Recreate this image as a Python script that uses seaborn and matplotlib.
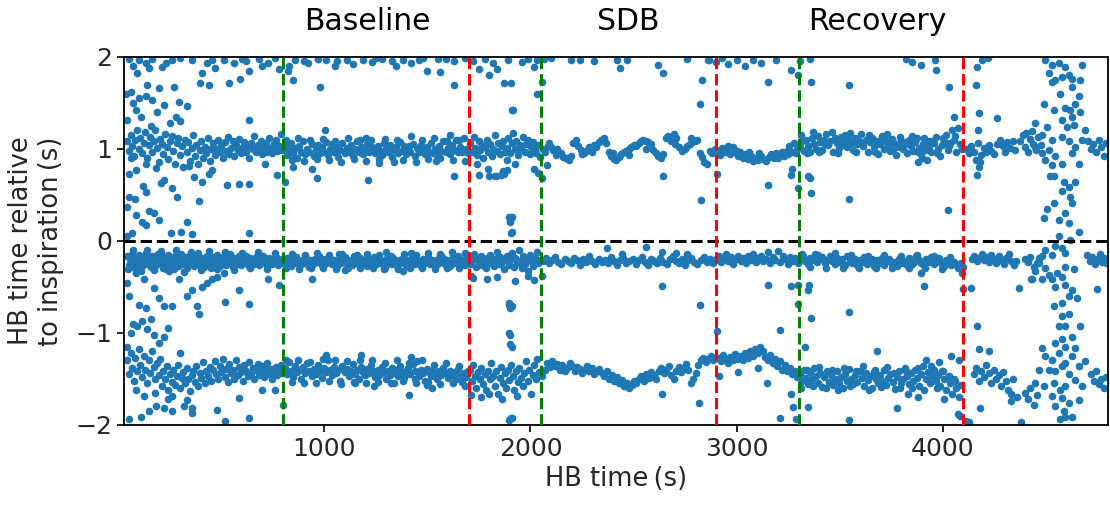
import matplotlib
matplotlib.use("Agg")
import matplotlib.pyplot as plt
import seaborn as sns
import pandas as pd

# ---------------- chart constants ----------------
phase_names = ["Baseline", "SDB", "Recovery"]
phase_starts = [800, 2050, 3300]      # green dashed lines (s)
phase_ends = [1700, 2900, 4100]       # red dashed lines (s)
phase_label_x = [1207, 2473, 3680]
x_ticks = [1000, 2000, 3000, 4000]
y_ticks = [-2, -1, 0, 1, 2]
x_label = "HB time\u2009(s)"
y_label = "HB time relative\nto inspiration\u2009(s)"

# ---------------- data: (HB time s, relative time s) ----------------
top_edge = [
    (53,1.98),(101,1.96),(134,1.93),(166,1.98),(93,1.82),(230,1.93),(214,1.89),(359,1.96),(407,1.82),(432,1.93),
    (456,1.96),(440,1.69),(399,1.71),(512,1.96),(536,1.71),(560,1.93),(593,1.76),(633,1.85),(601,1.98),(681,1.98),
    (729,1.93),(778,1.87),(826,1.85),(850,1.75),(858,1.96),(923,1.93),(971,1.98),(70,1.9),(150,1.88),(260,1.97),
    (300,1.99),(470,1.88),(620,1.95),(700,1.9),(760,1.99),
    (61,1.62),(142,1.69),(134,1.57),(166,1.53),(198,1.66),(222,1.48),(190,1.4),(85,1.42),(270,1.67),(279,1.35),
    (295,1.51),(335,1.46),(45,1.31),(633,1.31),
    (970,1.98),(1010,1.96),(1060,1.95),(1110,1.97),(1140,1.92),(1190,1.96),(1230,1.94),(1280,1.98),(1330,1.95),(1380,1.97),
    (1420,1.93),(1460,1.96),(1500,1.85),(1560,1.84),(1590,1.98),(1630,1.95),(1680,1.99),(1750,1.87),(1800,1.8),(1840,1.87),
    (1870,1.71),(979,1.67),(1631,1.69),(1913,1.42),
    (2018,1.89),(2066,1.98),(2098,1.99),(2195,1.96),(2240,1.97),(2308,1.95),(2420,1.97),(2435,1.88),(2470,1.96),(2620,1.91),
    (2645,1.82),(2760,1.98),(2830,1.75),(2823,1.49),(1905,1.71),(1908,1.42),(2058,1.73),(2034,1.6),(2865,1.96),
    (2860,1.97),(2900,1.94),(2930,1.99),(2960,1.92),(3000,1.96),(3040,1.9),(3080,1.97),(3120,1.93),(3153,1.73),(3193,1.97),
    (3265,1.86),(3298,1.8),(3354,1.98),(3362,1.73),(3547,1.69),(3305,1.95),
    (3820,1.98),(3850,1.94),(3894,1.91),(3960,1.97),(3966,1.86),(4030,1.67),(4167,1.89),(4160,1.69),(4175,1.39),(4055,1.35),
    (4264,1.33),(4190,1.96),(4220,1.99),
    (1720,1.95),(1780,1.98),(1820,1.93),(1890,1.97),(1960,1.94),(1990,1.98),(2030,1.96),(1550,1.98),(1480,1.99),(1350,1.9),
    (1250,1.99),(1050,1.9),(900,1.95),(830,1.9),
]

upper_band = [
    (45,1.08),(52,.98),(60,1.15),(68,1.03),(76,.92),(84,1.1),(92,1.2),(100,1.0),(108,1.12),(116,.95),
    (124,1.06),(132,1.18),(140,.9),(148,1.04),(156,1.13),(164,.97),(172,1.09),(180,1.2),(188,1.01),(196,.86),
    (204,1.11),(212,1.05),(220,.94),(228,1.16),(236,1.02),(244,.89),(252,1.08),(260,1.14),(268,.98),(276,.83),
    (284,1.06),(292,1.12),(300,.93),(308,1.03),(316,.8),(324,1.1),(332,.96),(340,1.07),(348,.87),(356,1.01),
    (364,1.15),(372,.92),(380,1.04),(388,.84),(396,.99),(404,1.09),(412,.9),(420,1.02),(428,.95),(436,1.12),
    (444,.87),(452,1.0),(460,1.06),(468,.93),(476,1.0),(484,1.1),(492,.96),(500,1.03),(508,.9),(516,1.07),
    (524,.98),(532,1.13),(540,.94),(548,1.01),(556,1.08),(564,.92),(572,1.04),(580,.99),(588,1.11),(596,.95),
    (604,1.02),(612,1.07),(620,.97),(628,1.03),(636,.9),(644,1.06),(652,1.0),(660,1.14),(668,.96),(676,1.04),
    (684,.99),(692,1.09),(700,.94),(708,1.02),(716,1.06),(724,.97),(732,1.12),(740,1.01),(748,.95),(756,1.05),
    (764,1.1),(772,.98),(780,1.03),(788,1.16),(796,.99),
    (808,1.04),(818,.93),(828,.99),(838,1.06),(848,.95),(858,1.01),(868,.9),(878,1.03),(888,.97),(898,1.08),
    (908,.94),(918,1.0),(928,.96),(938,1.05),(948,.92),(958,.99),(968,1.04),(978,.95),(988,1.02),(998,.97),
    (1008,1.07),(1018,.93),(1028,1.0),(1038,1.05),(1048,.96),(1058,1.02),(1068,.91),(1078,.99),(1088,1.06),(1098,.95),
    (1108,1.01),(1118,.97),(1128,1.04),(1138,.92),(1148,1.0),(1158,1.08),(1168,.96),(1178,1.02),(1188,.94),(1198,.99),
    (1208,1.05),(1218,.97),(1228,1.1),(1238,1.01),(1248,.95),(1258,1.03),(1268,.98),(1278,.93),(1288,1.06),(1298,1.0),
    (1308,.96),(1318,1.04),(1328,.91),(1338,.99),(1348,1.02),(1358,.95),(1368,1.07),(1378,.98),(1388,1.03),(1398,.94),
    (1408,1.0),(1418,.97),(1428,1.05),(1438,.92),(1448,1.01),(1458,.96),(1468,1.04),(1478,.99),(1488,.94),(1498,1.02),
    (1508,.97),(1518,1.06),(1528,.95),(1538,1.0),(1548,.93),(1558,1.03),(1568,.98),(1578,1.08),(1588,.96),(1598,1.01),
    (1608,.94),(1618,1.04),(1628,.99),(1638,1.1),(1648,.96),(1658,1.02),(1668,.97),(1678,1.12),(1688,1.0),(1698,.95),
    (1001,1.2),(1200,1.12),(1420,1.14),(1610,1.15),(1265,.85),(1340,.86),(1540,.87),
    (1708,1.06),(1716,.97),(1724,1.13),(1732,1.01),(1740,.93),(1748,1.08),(1756,.99),(1764,1.04),(1772,.9),(1780,1.02),
    (1788,1.1),(1796,.96),(1804,1.05),(1812,.92),(1820,1.0),(1828,1.15),(1836,.98),(1844,1.06),(1852,.94),(1860,1.03),
    (1868,1.09),(1876,.97),(1884,1.01),(1892,1.12),(1900,.95),(1908,1.06),(1916,1.17),(1924,1.0),(1932,1.09),(1940,.93),
    (1948,1.04),(1956,1.0),(1964,1.13),(1972,.97),(1980,1.05),(1988,1.1),(1996,.94),(2004,1.02),(2012,1.07),(2020,.99),
    (2028,.95),(2036,1.04),(2044,.91),
    (1740,.84),(1795,.78),(1830,.7),(1870,.73),(1855,.71),(1885,.77),(1925,.84),(2018,.78),(2058,.68),(2035,.74),
    (2060,1.0),(2072,.97),(2085,1.03),(2098,1.02),(2110,.99),(2122,.93),(2135,.97),(2147,.95),(2160,.91),(2172,.9),
    (2185,.88),(2195,.92),(2208,1.06),(2220,1.1),(2232,1.03),(2245,.99),(2258,.95),(2270,.98),(2282,1.02),(2294,1.0),
    (2306,1.04),(2318,1.02),(2330,1.07),(2342,1.1),(2355,1.12),(2368,1.06),(2380,.97),(2392,.92),(2404,.89),(2416,.88),
    (2428,.91),(2440,.94),(2452,.96),(2464,.98),(2476,1.0),(2488,1.02),(2500,1.04),(2512,1.03),(2524,1.06),(2536,1.08),
    (2548,1.1),(2560,1.09),(2572,1.07),(2584,1.05),(2596,.99),(2608,.95),(2620,.92),(2632,.9),(2644,.94),(2656,1.12),
    (2668,1.14),(2680,1.08),(2694,1.16),(2708,1.12),(2722,1.02),(2736,.98),(2748,1.0),(2760,1.03),(2772,1.05),(2784,1.07),
    (2796,1.09),(2808,1.1),(2820,.95),(2832,.91),(2844,.86),(2856,.84),(2870,.98),(2882,.95),(2894,1.0),
    (2090,1.06),(2130,1.0),(2250,.94),(2300,.96),(2400,.95),(2480,.93),(2560,1.0),(2700,1.05),(2780,1.12),
    (2645,.7),(2825,.44),(2080,.82),
    (2905,.97),(2918,.93),(2930,1.01),(2942,.96),(2955,.99),(2968,.94),(2980,1.02),(2992,.97),(3005,.92),(3018,.96),
    (3030,.9),(3042,.94),(3055,.89),(3068,.92),(3080,.87),(3092,.9),(3105,.88),(3118,.92),(3130,.89),(3142,.87),
    (3155,.91),(3168,.94),(3180,.9),(3192,.95),(3205,.93),(3218,.96),(3230,.92),(3242,.98),(3255,1.03),(3268,.97),
    (3280,1.06),(3292,1.0),
    (2960,1.03),(3000,.98),(3060,.97),(3110,.95),(3200,.9),(3250,.94),(3290,.95),
    (2903,.73),(3153,.61),(3265,.72),(3298,.57),(3345,.7),(3355,.68),(3362,.52),(3547,.45),(3270,.78),
    (3305,1.02),(3315,1.08),(3325,.98),(3335,1.1),(3345,1.03),(3355,.96),(3365,1.12),(3375,1.05),(3385,1.0),(3395,1.14),
    (3405,1.07),(3415,.99),(3425,1.1),(3435,1.16),(3445,1.04),(3455,1.09),(3465,.97),(3475,1.12),(3485,1.06),(3495,1.01),
    (3505,1.13),(3515,1.08),(3525,1.15),(3535,1.02),(3545,1.1),(3555,1.06),(3565,.99),(3575,1.12),(3585,1.05),(3595,1.09),
    (3605,1.16),(3615,1.03),(3625,1.1),(3635,.96),(3645,1.07),(3655,1.12),(3665,1.02),(3675,1.08),(3685,.94),(3695,1.05),
    (3705,1.14),(3715,1.0),(3725,1.09),(3735,1.04),(3745,.98),(3755,1.11),(3765,1.06),(3775,.93),(3785,1.02),(3795,1.08),
    (3805,1.0),(3815,1.05),(3825,.95),(3835,1.1),(3845,1.03),(3855,.98),(3865,1.07),(3875,1.12),(3885,1.01),(3895,.94),
    (3905,1.05),(3915,.99),(3925,1.09),(3935,1.03),(3945,.96),(3955,1.06),(3965,1.13),(3975,1.0),(3985,.92),(3995,1.04),
    (4005,1.08),(4015,1.15),(4025,.99),(4035,1.06),(4045,1.2),(4055,1.1),(4065,.96),(4075,1.23),(4085,1.05),(4095,1.0),
    (3925,.88),(3900,.9),(3880,.86),(4025,.34),
    (4110,1.0),(4125,.95),(4138,1.03),(4150,.97),(4160,.88),(4172,1.06),(4185,.93),(4198,1.01),(4210,.96),(4222,1.04),
    (4235,.98),(4248,.94),(4262,1.05),(4275,1.1),(4290,1.03),(4300,.97),(4312,1.07),(4325,1.01),(4338,1.09),(4350,.99),
    (4375,1.08),(4388,1.15),(4400,1.02),(4412,.96),(4425,1.11),(4438,1.05),(4450,.99),(4462,1.13),(4475,1.04),
    (4706,1.08),(4718,1.0),(4730,1.05),(4742,.96),(4755,1.1),(4768,1.02),(4780,.92),(4790,1.06),
    (4175,.8),(4167,.71),(4180,.86),(4170,1.2),
]

upper_band_extra = [
    (813,1.1),(843,.88),(873,1.12),(903,.87),(933,1.1),(963,.89),(993,1.11),(1023,.88),(1053,1.09),(1083,.86),
    (1113,1.12),(1143,.89),(1173,1.1),(1203,.87),(1233,1.02),(1263,.89),(1293,1.11),(1323,1.0),(1353,1.1),(1383,.88),
    (1413,1.03),(1443,.86),(1473,1.1),(1503,.89),(1533,1.12),(1563,.9),(1593,1.09),(1623,.88),(1653,1.1),(1683,.87),
    (3310,1.15),(3340,.95),(3370,1.18),(3400,.96),(3430,1.05),(3460,1.18),(3490,.95),(3520,1.04),(3550,1.17),(3580,.97),
    (3610,1.06),(3640,1.15),(3670,.97),(3700,1.1),(3730,1.16),(3760,.99),(3790,1.13),(3820,1.07),(3850,1.14),(3880,.96),
    (3910,1.12),(3940,1.08),(3970,.95),(4000,1.12),(4030,1.03),(4060,1.14),
]

middle_band = [
    (45,-.17),(52,-.26),(59,-.2),(66,-.14),(73,-.23),(80,-.29),(87,-.19),(94,-.24),(101,-.15),(108,-.22),
    (115,-.27),(122,-.18),(129,-.21),(136,-.13),(143,-.25),(150,-.2),(157,-.28),(164,-.16),(171,-.23),(178,-.19),
    (185,-.26),(192,-.14),(199,-.21),(206,-.24),(213,-.17),(220,-.29),(227,-.2),(234,-.23),(241,-.15),(248,-.26),
    (255,-.19),(262,-.22),(269,-.31),(276,-.17),(283,-.24),(290,-.2),(297,-.27),(304,-.14),(311,-.22),(318,-.25),
    (325,-.18),(332,-.3),(339,-.21),(346,-.16),(353,-.24),(360,-.2),(367,-.27),(374,-.18),(381,-.23),(388,-.13),
    (395,-.26),(402,-.21),(409,-.19),(416,-.28),(423,-.22),(430,-.16),(437,-.24),(444,-.2),(451,-.3),(458,-.18),
    (465,-.25),(472,-.21),(479,-.15),(486,-.23),(493,-.27),(500,-.19),(507,-.22),(514,-.17),(521,-.26),(528,-.2),
    (535,-.24),(542,-.14),(549,-.22),(556,-.28),(563,-.19),(570,-.23),(577,-.25),(584,-.17),(591,-.21),(598,-.26),
    (605,-.2),(612,-.24),(619,-.16),(626,-.22),(633,-.27),(640,-.19),(647,-.23),(654,-.21),(661,-.25),(668,-.18),
    (675,-.22),(682,-.26),(689,-.2),(696,-.23),(703,-.17),(710,-.24),(717,-.21),(724,-.27),(731,-.19),(738,-.22),
    (745,-.25),(752,-.2),(759,-.23),(766,-.18),(773,-.26),(780,-.21),(787,-.24),(794,-.2),
    (802,-.21),(811,-.25),(820,-.19),(829,-.23),(838,-.27),(847,-.2),(856,-.24),(865,-.18),(874,-.22),(883,-.26),
    (892,-.21),(901,-.24),(910,-.19),(919,-.23),(928,-.28),(937,-.21),(946,-.25),(955,-.2),(964,-.23),(973,-.17),
    (982,-.22),(991,-.26),(1000,-.2),(1009,-.24),(1018,-.22),(1027,-.19),(1036,-.25),(1045,-.21),(1054,-.23),(1063,-.27),
    (1072,-.2),(1081,-.24),(1090,-.22),(1099,-.18),(1108,-.25),(1117,-.21),(1126,-.23),(1135,-.26),(1144,-.2),(1153,-.24),
    (1162,-.22),(1171,-.19),(1180,-.25),(1189,-.21),(1198,-.23),(1207,-.27),(1216,-.2),(1225,-.24),(1234,-.22),(1243,-.18),
    (1252,-.25),(1261,-.21),(1270,-.24),(1279,-.22),(1288,-.26),(1297,-.2),(1306,-.23),(1315,-.21),(1324,-.25),(1333,-.19),
    (1342,-.23),(1351,-.27),(1360,-.21),(1369,-.24),(1378,-.2),(1387,-.23),(1396,-.26),(1405,-.21),(1414,-.24),(1423,-.19),
    (1432,-.22),(1441,-.25),(1450,-.21),(1459,-.23),(1468,-.27),(1477,-.2),(1486,-.24),(1495,-.22),(1504,-.18),(1513,-.25),
    (1522,-.21),(1531,-.23),(1540,-.26),(1549,-.2),(1558,-.24),(1567,-.22),(1576,-.19),(1585,-.25),(1594,-.21),(1603,-.23),
    (1612,-.27),(1621,-.2),(1630,-.24),(1639,-.22),(1648,-.17),(1657,-.25),(1666,-.21),(1675,-.23),(1684,-.26),(1693,-.2),
    (1070,-.14),(1160,-.15),(1300,-.12),(1420,-.13),(1560,-.14),(1620,-.12),(1680,-.13),(1100,-.32),(1290,-.31),(1380,-.33),
    (1702,-.18),(1710,-.25),(1718,-.21),(1726,-.14),(1734,-.28),(1742,-.2),(1750,-.23),(1758,-.17),(1766,-.26),(1774,-.21),
    (1782,-.3),(1790,-.19),(1798,-.24),(1806,-.15),(1814,-.22),(1822,-.27),(1830,-.2),(1838,-.12),(1846,-.25),(1854,-.18),
    (1862,-.23),(1870,-.31),(1878,-.2),(1886,-.16),(1894,-.26),(1902,-.21),(1910,-.13),(1918,-.28),(1926,-.19),(1934,-.24),
    (1942,-.1),(1950,-.22),(1958,-.3),(1966,-.17),(1974,-.25),(1982,-.2),(1990,-.33),(1998,-.15),(2006,-.23),(2014,-.27),
    (2022,-.19),(2030,-.12),(2038,-.24),(2046,-.21),
    (1720,-.4),(1790,-.41),(1840,-.39),(1925,-.44),(2018,-.43),(2058,-.38),(1990,-.38),
    (2060,-.22),(2075,-.19),(2090,-.24),(2105,-.21),(2120,-.18),(2135,-.23),(2150,-.25),(2165,-.2),(2180,-.22),(2195,-.24),
    (2210,-.19),(2225,-.21),(2240,-.26),(2255,-.2),(2270,-.23),(2285,-.17),(2300,-.22),(2315,-.25),(2330,-.2),(2345,-.23),
    (2360,-.21),(2375,-.24),(2390,-.18),(2405,-.22),(2420,-.26),(2435,-.21),(2450,-.19),(2465,-.24),(2480,-.22),(2495,-.2),
    (2510,-.25),(2525,-.21),(2540,-.18),(2555,-.23),(2570,-.26),(2585,-.2),(2600,-.22),(2615,-.24),(2630,-.19),(2645,-.23),
    (2660,-.25),(2675,-.2),(2690,-.17),(2705,-.22),(2720,-.24),(2735,-.2),(2750,-.26),(2765,-.21),(2780,-.19),(2795,-.23),
    (2810,-.25),(2825,-.21),(2840,-.18),(2855,-.23),(2870,-.2),(2885,-.24),
    (2370,-.08),(2560,-.07),(2705,-.13),(2760,-.14),(2445,-.14),(2640,-.12),(2639,-.49),(2823,-.7),
    (2900,-.2),(2912,-.17),(2924,-.23),(2936,-.19),(2948,-.14),(2960,-.22),(2972,-.18),(2984,-.25),(2996,-.2),(3008,-.16),
    (3020,-.22),(3032,-.19),(3044,-.24),(3056,-.17),(3068,-.21),(3080,-.14),(3092,-.23),(3104,-.19),(3116,-.16),(3128,-.22),
    (3140,-.2),(3152,-.12),(3164,-.24),(3176,-.18),(3188,-.21),(3200,-.11),(3212,-.23),(3224,-.17),(3236,-.2),(3248,-.25),
    (3260,-.18),(3272,-.22),(3284,-.19),(3296,-.24),(3308,-.2),(3320,-.17),(3332,-.22),(3344,-.25),(3356,-.19),(3368,-.21),
    (3380,-.14),(3392,-.23),(3404,-.2),(3416,-.18),(3428,-.24),(3440,-.21),(3452,-.16),(3464,-.22),(3476,-.25),(3488,-.19),
    (3500,-.23),(3512,-.2),(3524,-.26),(3536,-.17),(3548,-.22),(3560,-.24),(3572,-.2),(3584,-.26),(3596,-.21),(3608,-.23),
    (3620,-.18),(3632,-.25),(3644,-.22),(3656,-.2),(3668,-.27),(3680,-.21),(3692,-.24),(3704,-.19),(3716,-.26),(3728,-.22),
    (3740,-.2),(3752,-.25),(3764,-.23),(3776,-.27),(3788,-.2),(3800,-.24),(3812,-.22),(3824,-.26),(3836,-.19),(3848,-.25),
    (3860,-.23),(3872,-.17),(3884,-.21),(3896,-.24),(3908,-.26),(3920,-.2),(3932,-.23),(3944,-.18),(3956,-.25),(3968,-.22),
    (3980,-.19),(3992,-.24),(4004,-.27),(4016,-.21),(4028,-.24),(4040,-.26),(4052,-.23),(4064,-.25),(4076,-.27),(4088,-.24),
    (4100,-.28),
    (3153,-.48),(3265,-.49),(3298,-.48),(3350,-.48),(3345,-.53),(3298,-.69),(3362,-.84),(3547,-.77),(3893,-.35),(3910,-.49),
    (4095,-.35),(4097,-.52),(4135,-.51),(4370,-.51),(4428,-.41),(4747,-.52),
    (4140,-.2),(4152,-.16),(4164,-.22),(4176,-.19),(4188,-.14),(4200,-.21),(4212,-.18),(4224,-.23),(4236,-.15),(4248,-.2),
    (4260,-.24),(4272,-.17),(4284,-.21),(4296,-.25),(4308,-.19),(4320,-.14),(4332,-.22),(4344,-.26),(4356,-.22),(4400,-.2),
    (4412,-.23),(4425,-.18),(4440,-.28),(4455,-.24),(4468,-.19),
    (4700,-.15),(4712,-.22),(4724,-.18),(4736,-.25),(4748,-.2),(4760,-.14),(4772,-.23),(4784,-.19),(4792,-.24),
]

middle_band_extra = [
    (48,-.31),(70,-.1),(110,-.33),(140,-.1),(175,-.32),(210,-.11),(245,-.33),(280,-.1),(320,-.34),(355,-.12),
    (400,-.32),(440,-.11),(480,-.31),(520,-.12),(560,-.32),(600,-.13),(640,-.3),(680,-.12),(720,-.31),(760,-.13),
    (815,-.3),(845,-.14),(875,-.31),(905,-.15),(935,-.29),(965,-.13),(995,-.3),(1025,-.15),(1055,-.31),(1085,-.14),
    (1115,-.29),(1145,-.16),(1175,-.3),(1205,-.14),(1235,-.29),(1265,-.15),(1295,-.3),(1325,-.16),(1355,-.31),(1385,-.14),
    (1415,-.29),(1445,-.15),(1475,-.3),(1505,-.13),(1535,-.31),(1565,-.16),(1595,-.29),(1625,-.15),(1655,-.3),(1685,-.14),
    (3315,-.14),(3355,-.28),(3395,-.15),(3435,-.29),(3475,-.13),(3515,-.29),(3555,-.15),(3595,-.3),(3635,-.16),(3675,-.29),
    (3715,-.15),(3755,-.3),(3795,-.16),(3835,-.29),(3875,-.15),(3915,-.3),(3955,-.17),(3995,-.31),(4035,-.18),(4075,-.3),
]

lower_band = [
    (45,-1.3),(52,-1.45),(60,-1.22),(68,-1.38),(76,-1.52),(84,-1.27),(92,-1.41),(100,-1.18),(108,-1.35),(116,-1.48),
    (124,-1.25),(132,-1.4),(140,-1.55),(148,-1.3),(156,-1.44),(164,-1.2),(172,-1.37),(180,-1.5),(188,-1.33),(196,-1.46),
    (204,-1.28),(212,-1.58),(220,-1.42),(228,-1.5),(236,-1.36),(244,-1.62),(252,-1.45),(260,-1.53),(268,-1.4),(276,-1.57),
    (284,-1.47),(292,-1.35),(300,-1.6),(308,-1.49),(316,-1.43),(324,-1.55),(332,-1.38),(340,-1.5),(348,-1.63),(356,-1.46),
    (364,-1.41),(372,-1.53),(380,-1.36),(388,-1.58),(396,-1.44),(404,-1.49),(412,-1.32),(420,-1.54),(428,-1.42),(436,-1.47),
    (444,-1.37),(452,-1.52),(460,-1.4),(468,-1.31),(476,-1.45),(484,-1.5),(492,-1.36),(500,-1.43),(508,-1.28),(516,-1.48),
    (524,-1.39),(532,-1.53),(540,-1.34),(548,-1.44),(556,-1.4),(564,-1.5),(572,-1.3),(580,-1.46),(588,-1.37),(596,-1.43),
    (604,-1.52),(612,-1.35),(620,-1.41),(628,-1.47),(636,-1.32),(644,-1.44),(652,-1.38),(660,-1.5),(668,-1.4),(676,-1.34),
    (684,-1.46),(692,-1.42),(700,-1.36),(708,-1.48),(716,-1.4),(724,-1.33),(732,-1.45),(740,-1.39),(748,-1.5),(756,-1.43),
    (764,-1.37),(772,-1.46),(780,-1.41),(788,-1.35),(796,-1.44),
    (808,-1.38),(818,-1.45),(828,-1.32),(838,-1.42),(848,-1.48),(858,-1.36),(868,-1.43),(878,-1.4),(888,-1.5),(898,-1.37),
    (908,-1.44),(918,-1.33),(928,-1.41),(938,-1.47),(948,-1.39),(958,-1.45),(968,-1.35),(978,-1.42),(988,-1.49),(998,-1.38),
    (1008,-1.43),(1018,-1.3),(1028,-1.4),(1038,-1.46),(1048,-1.37),(1058,-1.44),(1068,-1.4),(1078,-1.52),(1088,-1.36),(1098,-1.43),
    (1108,-1.39),(1118,-1.47),(1128,-1.41),(1138,-1.34),(1148,-1.45),(1158,-1.4),(1168,-1.5),(1178,-1.37),(1188,-1.43),(1198,-1.46),
    (1208,-1.39),(1218,-1.44),(1228,-1.35),(1238,-1.42),(1248,-1.48),(1258,-1.4),(1268,-1.45),(1278,-1.37),(1288,-1.43),(1298,-1.5),
    (1308,-1.41),(1318,-1.46),(1328,-1.38),(1338,-1.44),(1348,-1.4),(1358,-1.47),(1368,-1.36),(1378,-1.43),(1388,-1.49),(1398,-1.41),
    (1408,-1.38),(1418,-1.45),(1428,-1.34),(1438,-1.42),(1448,-1.31),(1458,-1.47),(1468,-1.4),(1478,-1.44),(1488,-1.52),(1498,-1.39),
    (1508,-1.43),(1518,-1.47),(1528,-1.4),(1538,-1.45),(1548,-1.5),(1558,-1.42),(1568,-1.46),(1578,-1.38),(1588,-1.44),(1598,-1.49),
    (1608,-1.41),(1618,-1.46),(1628,-1.43),(1638,-1.5),(1648,-1.39),(1658,-1.47),(1668,-1.53),(1678,-1.44),(1688,-1.48),(1698,-1.41),
    (1008,-1.24),(1180,-1.24),(1420,-1.26),(1445,-1.55),(1500,-1.57),(1520,-1.6),(1340,-1.55),(1260,-1.53),(1150,-1.55),(1240,-1.58),
    (1410,-1.68),
    (1706,-1.4),(1714,-1.52),(1722,-1.35),(1730,-1.47),(1738,-1.6),(1746,-1.43),(1754,-1.5),(1762,-1.38),(1770,-1.56),(1778,-1.45),
    (1786,-1.62),(1794,-1.41),(1802,-1.5),(1810,-1.33),(1818,-1.47),(1826,-1.58),(1834,-1.42),(1842,-1.66),(1850,-1.49),(1858,-1.37),
    (1866,-1.54),(1874,-1.44),(1882,-1.6),(1890,-1.4),(1898,-1.51),(1906,-1.35),(1914,-1.47),(1922,-1.62),(1930,-1.42),(1938,-1.53),
    (1946,-1.38),(1954,-1.49),(1962,-1.58),(1970,-1.44),(1978,-1.31),(1986,-1.52),(1994,-1.4),(2002,-1.66),(2010,-1.46),(2018,-1.35),
    (2026,-1.5),(2034,-1.28),(2042,-1.43),
    (1710,-1.68),(1760,-1.7),(1800,-1.66),(1935,-1.69),(1860,-1.72),
    (2058,-1.47),(2070,-1.4),(2082,-1.33),(2094,-1.37),(2106,-1.31),(2118,-1.36),(2130,-1.34),(2142,-1.4),(2154,-1.35),(2166,-1.42),
    (2178,-1.38),(2190,-1.33),(2202,-1.36),(2214,-1.41),(2226,-1.37),(2238,-1.39),(2250,-1.44),(2262,-1.4),(2274,-1.36),(2286,-1.42),
    (2298,-1.38),(2310,-1.45),(2322,-1.41),(2334,-1.39),(2346,-1.44),(2358,-1.47),(2370,-1.42),(2382,-1.5),(2394,-1.46),(2406,-1.52),
    (2418,-1.48),(2430,-1.55),(2442,-1.51),(2454,-1.58),(2466,-1.54),(2478,-1.6),(2490,-1.57),(2502,-1.52),(2514,-1.55),(2526,-1.5),
    (2538,-1.47),(2550,-1.52),(2562,-1.45),(2574,-1.49),(2586,-1.43),(2598,-1.46),(2610,-1.5),(2622,-1.42),(2634,-1.38),(2646,-1.44),
    (2658,-1.4),(2670,-1.36),(2682,-1.46),(2694,-1.5),(2706,-1.41),(2718,-1.37),(2730,-1.43),(2742,-1.39),(2754,-1.34),(2766,-1.4),
    (2778,-1.55),(2790,-1.5),(2802,-1.44),(2814,-1.35),(2826,-1.3),(2838,-1.27),(2850,-1.32),(2862,-1.28),(2874,-1.25),(2886,-1.3),
    (2898,-1.27),(2640,-1.67),(2818,-1.76),
    (2910,-1.27),(2922,-1.31),(2934,-1.24),(2946,-1.29),(2958,-1.33),(2970,-1.26),(2982,-1.3),(2994,-1.23),(3006,-1.28),(3018,-1.25),
    (3030,-1.3),(3042,-1.22),(3054,-1.27),(3066,-1.2),(3078,-1.25),(3090,-1.18),(3102,-1.22),(3114,-1.15),(3126,-1.2),(3138,-1.26),
    (3150,-1.3),(3162,-1.24),(3174,-1.33),(3186,-1.28),(3198,-1.36),(3210,-1.31),(3222,-1.4),(3234,-1.35),(3246,-1.42),(3258,-1.38),
    (3270,-1.45),(3282,-1.41),(3294,-1.48),
    (2903,-.98),(3210,-.97),(3330,-1.15),(3145,-1.55),(3008,-1.43),(3105,-1.38),(3265,-1.66),(3272,-1.81),(3345,-1.81),(3210,-1.92),
    (3290,-1.94),(3547,-1.95),(3780,-1.82),(3680,-1.2),(2915,-1.47),
    (3306,-1.45),(3316,-1.52),(3326,-1.4),(3336,-1.49),(3346,-1.56),(3356,-1.43),(3366,-1.5),(3376,-1.38),(3386,-1.47),(3396,-1.54),
    (3406,-1.44),(3416,-1.59),(3426,-1.48),(3436,-1.41),(3446,-1.53),(3456,-1.46),(3466,-1.57),(3476,-1.5),(3486,-1.42),(3496,-1.55),
    (3506,-1.48),(3516,-1.6),(3526,-1.45),(3536,-1.52),(3546,-1.39),(3556,-1.5),(3566,-1.56),(3576,-1.46),(3586,-1.53),(3596,-1.41),
    (3606,-1.49),(3616,-1.58),(3626,-1.44),(3636,-1.51),(3646,-1.47),(3656,-1.6),(3666,-1.43),(3676,-1.5),(3686,-1.55),(3696,-1.46),
    (3706,-1.52),(3716,-1.4),(3726,-1.57),(3736,-1.49),(3746,-1.45),(3756,-1.53),(3766,-1.61),(3776,-1.48),(3786,-1.42),(3796,-1.55),
    (3806,-1.5),(3816,-1.38),(3826,-1.47),(3836,-1.56),(3846,-1.44),(3856,-1.52),(3866,-1.4),(3876,-1.49),(3886,-1.58),(3896,-1.45),
    (3906,-1.36),(3916,-1.5),(3926,-1.43),(3936,-1.55),(3946,-1.47),(3956,-1.4),(3966,-1.52),(3976,-1.46),(3986,-1.58),(3996,-1.42),
    (4006,-1.5),(4016,-1.62),(4026,-1.48),(4036,-1.55),(4046,-1.66),(4056,-1.5),(4066,-1.6),(4076,-1.7),(4086,-1.57),
    (3920,-1.3),(3980,-1.32),(4040,-1.25),(3880,-1.7),(4005,-1.72),(3830,-1.67),(4085,-1.9),(4110,-1.96),(4125,-1.97),
    (4150,-1.45),(4162,-1.38),(4174,-1.52),(4186,-1.42),(4198,-1.48),(4210,-1.35),(4222,-1.44),(4234,-1.55),(4246,-1.4),(4258,-1.5),
    (4270,-1.46),(4282,-1.58),(4294,-1.43),(4306,-1.52),(4318,-1.62),(4330,-1.67),(4340,-1.5),(4400,-1.65),(4412,-1.72),(4425,-1.6),
    (4440,-1.78),(4455,-1.68),(4720,-1.45),(4732,-1.52),(4744,-1.42),(4756,-1.56),(4768,-1.5),(4780,-1.6),(4790,-1.48),
    (4167,-.93),(4175,-1.18),(4225,-1.2),(4080,-1.3),(4075,-1.88),(4380,-1.97),(4330,-1.74),(4360,-1.7),(4178,-1.82),
]

lower_band_extra = [
    (812,-1.3),(842,-1.53),(872,-1.29),(902,-1.55),(932,-1.32),(962,-1.54),(992,-1.28),(1022,-1.52),(1052,-1.3),(1082,-1.56),
    (1112,-1.31),(1142,-1.53),(1172,-1.29),(1202,-1.55),(1232,-1.3),(1262,-1.47),(1292,-1.33),(1322,-1.54),(1352,-1.29),(1382,-1.52),
    (1412,-1.33),(1442,-1.5),(1472,-1.3),(1502,-1.53),(1532,-1.35),(1562,-1.56),(1592,-1.33),(1622,-1.55),(1652,-1.36),(1682,-1.58),
    (3311,-1.6),(3341,-1.4),(3371,-1.58),(3401,-1.37),(3431,-1.6),(3461,-1.4),(3491,-1.62),(3521,-1.38),(3551,-1.58),(3581,-1.42),
    (3611,-1.36),(3641,-1.62),(3671,-1.4),(3701,-1.59),(3731,-1.37),(3761,-1.44),(3791,-1.6),(3821,-1.42),(3851,-1.6),(3881,-1.38),
    (3911,-1.62),(3941,-1.36),(3971,-1.6),(4001,-1.41),(4031,-1.47),(4061,-1.52),
]

late_column = [
    (4497,1.96),(4530,1.91),(4562,1.93),(4594,1.89),(4610,1.8),(4675,1.91),(4514,1.82),(4546,1.75),(4578,1.78),(4626,1.76),
    (4666,1.75),(4530,1.73),(4570,1.6),(4626,1.67),(4658,1.57),(4594,1.44),(4618,1.42),(4642,1.49),(4666,1.4),(4538,1.42),
    (4489,1.49),(4626,1.35),(4578,1.31),(4602,1.24),(4634,1.26),(4691,1.2),(4449,1.28),(4505,1.24),
    (4401,1.17),(4433,1.19),(4481,1.15),(4530,1.1),(4578,1.13),(4610,1.08),(4642,1.02),(4514,.99),(4546,.92),(4578,.84),
    (4497,.88),(4530,.82),(4626,.95),(4658,.84),(4481,.95),(4449,1.02),(4675,1.1),
    (4522,.7),(4538,.7),(4586,.64),(4610,.59),(4642,.64),(4578,.54),(4618,.48),(4626,.41),(4538,.41),(4505,.35),
    (4489,.25),(4562,.23),(4594,.3),(4610,.19),(4658,.1),(4562,.05),(4618,.01),
    (4497,-.1),(4546,-.06),(4578,-.08),(4481,-.17),(4530,-.15),(4594,-.13),(4465,-.24),(4449,-.33),(4497,-.3),(4514,-.37),
    (4554,-.35),(4594,-.28),(4481,-.42),(4530,-.42),(4578,-.39),(4634,-.31),(4546,-.5),(4594,-.48),(4626,-.53),(4650,-.62),
    (4610,-.6),(4578,-.68),(4538,-.71),(4433,-.42),
    (4578,-.82),(4610,-.8),(4594,-.93),(4562,-.93),(4666,-.93),(4626,-1.04),(4578,-1.07),(4594,-1.15),(4546,-1.11),(4642,-1.16),
    (4481,-1.16),(4497,-1.25),(4530,-1.29),(4562,-1.22),(4594,-1.33),(4626,-1.25),(4658,-1.36),(4691,-1.31),(4514,-1.4),(4546,-1.42),
    (4578,-1.36),(4610,-1.45),(4642,-1.51),(4675,-1.58),(4465,-1.4),(4538,-1.54),(4570,-1.62),(4594,-1.58),(4530,-1.69),(4578,-1.71),
    (4610,-1.76),(4546,-1.8),(4586,-1.85),(4626,-1.91),(4570,-1.94),(4658,-1.73),(4594,-1.91),(4489,-1.58),(4449,-1.54),
]

scattered = [
    (53,.73),(85,.77),(134,.84),(182,.79),(206,.63),(222,.66),(262,.57),(286,.48),(343,.81),(367,.69),
    (407,.64),(440,.73),(456,.77),(528,.61),(585,.62),(633,.62),(713,.84),(770,.71),(810,.64),(850,.8),
    (939,.78),(963,.68),(391,.43),
    (53,.48),(45,.37),(85,.28),(134,.53),(150,.32),(174,.3),(118,.21),(134,.17),(198,.23),(69,.08),
    (45,.05),(254,.09),(303,.1),(335,.2),(359,.07),(633,.08),
    (85,-.35),(126,-.42),(174,-.51),(198,-.62),(222,-.71),(230,-.31),(262,-.71),(295,-.42),(335,-.6),(359,-.53),
    (383,-.71),(391,-.8),(407,-.5),(432,-.46),(456,-.42),(480,-.39),(512,-.35),(520,-.66),(585,-.53),(633,-.69),
    (729,-.42),(778,-.48),(939,-.42),(53,-.6),(134,-.73),(45,-.46),
    (61,-1.0),(93,-.93),(118,-.87),(142,-.96),(174,-1.02),(198,-1.11),(222,-1.04),(45,-1.15),
    (85,-1.62),(126,-1.69),(262,-1.69),(335,-1.73),(359,-1.82),(359,-1.87),(480,-1.84),(585,-1.71),(633,-1.92),(697,-1.62),
    (761,-1.62),(53,-1.94),(110,-1.91),(150,-1.85),(182,-1.8),(222,-1.82),(262,-1.85),(520,-1.96),(800,-1.78),
    (1895,.26),(1900,.22),(1905,.08),(1898,-.68),(1902,-.73),(1895,-1.0),(1900,-1.02),(1898,-1.95),(1905,-1.92),(1900,.2),
    (1895,-.7),(1903,-1.12),(1910,.26),(1912,.1),(1908,-.71),(1912,-1.15),(1910,-1.92),
    (1631,.7),(1752,.72),(1800,.7),(1835,.7),(1868,.76),(1887,.88),(1213,.66),(1712,-.38),
    (70,1.5),(110,1.35),(160,1.25),(250,1.28),(300,1.3),(40,1.6),(100,1.55),(120,.6),(60,.9),(80,.45),
    (160,-.85),(100,-.7),(70,-.9),(240,-.95),(300,-1.22),(180,-1.65),(240,-1.72),(320,-1.8),
]

# ---------------- assemble ----------------
groups = [top_edge, upper_band, upper_band_extra, middle_band, middle_band_extra,
          lower_band, lower_band_extra, late_column, scattered]
df = pd.DataFrame([p for g in groups for p in g], columns=["hb_time", "rel_time"])

sns.set_style("white")
plt.rcParams["font.family"] = ["DejaVu Sans"]
plt.rcParams["axes.unicode_minus"] = True

fig = plt.figure(figsize=(11.1, 5.07), dpi=100)
ax = fig.add_axes([0.112, 0.162, 0.886, 0.726])

sns.scatterplot(data=df, x="hb_time", y="rel_time", ax=ax, s=30, color="#1f77b4",
                linewidth=0, legend=False, zorder=2)

ax.axhline(0, color="black", ls="--", lw=2.2, zorder=3)
for xv in phase_starts:
    ax.axvline(xv, color="green", ls="--", lw=2.2, zorder=3)
for xv in phase_ends:
    ax.axvline(xv, color="red", ls="--", lw=2.2, zorder=3)

for name, xv in zip(phase_names, phase_label_x):
    ax.text(xv, 1.095, name, transform=ax.get_xaxis_transform(), ha="center", va="center",
            fontsize=21.5, color="black")

ax.set_xlim(30, 4800)
ax.set_ylim(-2, 2)
ax.set_xticks(x_ticks)
ax.set_yticks(y_ticks)
ax.tick_params(axis="both", labelsize=18, length=5, width=1.2, direction="out",
               bottom=True, left=True, top=False, right=False, color="black")
ax.set_xlabel(x_label, fontsize=18.5, labelpad=4)
ax.set_ylabel(y_label, fontsize=18.5, labelpad=8)
for sp in ax.spines.values():
    sp.set_visible(True)
    sp.set_color("black")
    sp.set_linewidth(1.3)

fig.savefig("out.png", dpi=100)
